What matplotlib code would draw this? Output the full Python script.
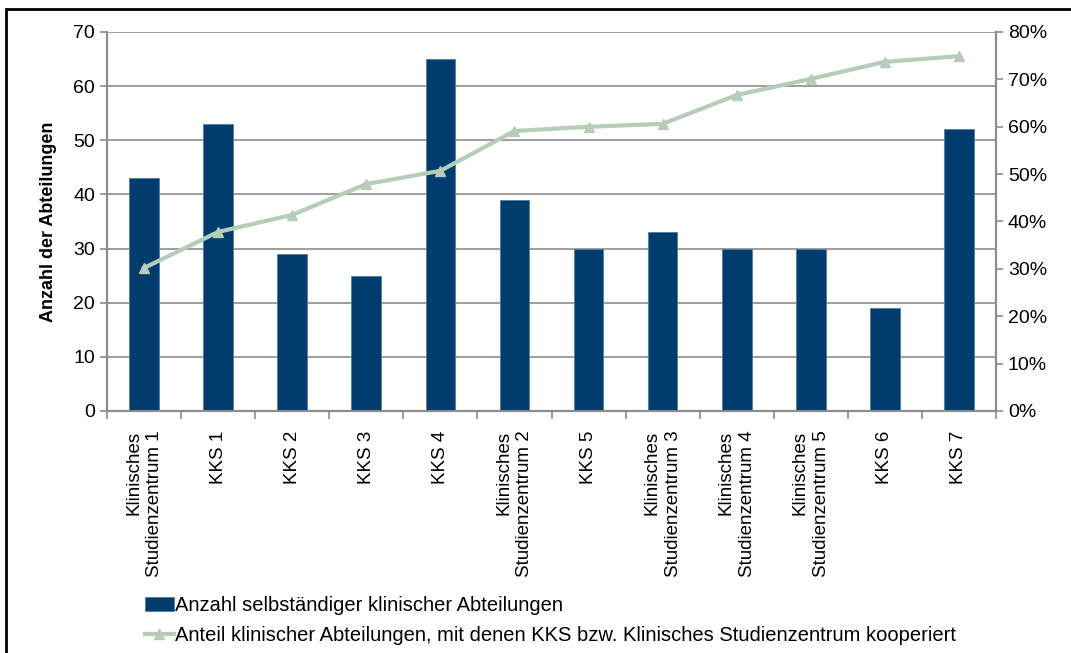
import matplotlib
matplotlib.use("Agg")
import matplotlib.pyplot as plt
from matplotlib.patches import Rectangle
from matplotlib.ticker import FuncFormatter, MultipleLocator

categories = [
    "Klinisches\nStudienzentrum 1", "KKS 1", "KKS 2", "KKS 3", "KKS 4",
    "Klinisches\nStudienzentrum 2", "KKS 5", "Klinisches\nStudienzentrum 3",
    "Klinisches\nStudienzentrum 4", "Klinisches\nStudienzentrum 5", "KKS 6", "KKS 7",
]
abteilungen = [43, 53, 29, 25, 65, 39, 30, 33, 30, 30, 19, 52]
anteil = [30.2, 37.8, 41.4, 47.9, 50.7, 59.1, 60.0, 60.6, 66.7, 70.1, 73.7, 74.9]

bar_label = "Anzahl selbständiger klinischer Abteilungen"
line_label = "Anteil klinischer Abteilungen, mit denen KKS bzw. Klinisches Studienzentrum kooperiert"

BAR_COLOR = "#003D6E"
LINE_COLOR = "#B5CDB9"
GRID_COLOR = "#8C8C8C"

plt.rcParams["font.family"] = ["Liberation Sans", "DejaVu Sans"]

fig = plt.figure(figsize=(10.71, 6.53), dpi=100)
ax = fig.add_axes([0.0999, 0.3706, 0.8301, 0.5804])
ax2 = ax.twinx()

x = list(range(len(categories)))
ax.bar(x, abteilungen, width=0.4, color=BAR_COLOR, edgecolor="#4F7FA6", linewidth=0.6,
       label=bar_label, zorder=3)
ax.set_ylim(0, 70)
ax.set_xlim(-0.5, len(categories) - 0.5)
ax.yaxis.set_major_locator(MultipleLocator(10))
ax.grid(axis="y", color=GRID_COLOR, linewidth=1.2, zorder=0)
ax.set_axisbelow(True)

ax2.plot(x, anteil, color=LINE_COLOR, linewidth=3, marker="^", markersize=7.5,
         markeredgecolor=LINE_COLOR, label=line_label, zorder=4)
ax2.set_ylim(0, 80)
ax2.yaxis.set_major_locator(MultipleLocator(10))
ax2.yaxis.set_major_formatter(FuncFormatter(lambda v, _: f"{v:.0f}%"))

for a in (ax, ax2):
    a.spines["top"].set_visible(False)
    for side in ("left", "right", "bottom"):
        a.spines[side].set_color(GRID_COLOR)
        a.spines[side].set_linewidth(1.5)
    a.tick_params(axis="y", colors=GRID_COLOR, labelcolor="black", labelsize=14,
                  length=5, width=1.2, direction="out")

ax.set_xticks([i - 0.5 for i in range(len(categories) + 1)])
ax.set_xticklabels([])
ax.tick_params(axis="x", colors=GRID_COLOR, length=6, width=1.2, direction="out")
for i, label in enumerate(categories):
    ax.text(i, -3.6, label, rotation=90, ha="center", va="top", multialignment="right",
            fontsize=13.5, linespacing=1.3)

ax.set_ylabel("Anzahl der Abteilungen", fontsize=13, fontweight="bold", labelpad=12)

handles = [ax.containers[0], ax2.lines[0]]
fig.legend(handles, [bar_label, line_label], loc="upper left",
           bbox_to_anchor=(0.118, 0.115), frameon=False,
           handlelength=1.45, handletextpad=0.08, labelspacing=0.55,
           prop={"family": ["Liberation Sans Narrow", "Liberation Sans"], "size": 14.5})

fig.patches.append(Rectangle((6 / 1071, -0.1), 1.2, 1.1 - 9 / 653, transform=fig.transFigure,
                             fill=False, edgecolor="black", linewidth=2))

fig.savefig("out.png", dpi=100)
